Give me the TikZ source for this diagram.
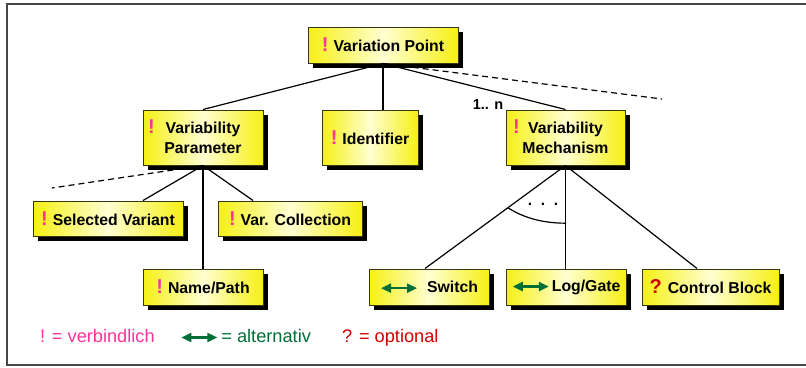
\documentclass[tikz,border=0pt]{standalone}
\usepackage{fontspec}
\setmainfont{Liberation Sans}
\usetikzlibrary{shadows,arrows.meta,calc}
\definecolor{expink}{RGB}{255,51,153}
\definecolor{altgreen}{RGB}{0,110,55}
\definecolor{optred}{RGB}{210,0,0}
\definecolor{boxyellow}{RGB}{246,240,20}
\definecolor{boxpale}{RGB}{255,255,210}
\definecolor{boxedge}{RGB}{55,55,20}
\newcommand{\vpboxfont}{\fontsize{15.8}{20}\selectfont\bfseries}
\newcommand{\exmark}{{\fontsize{20}{20}\selectfont\bfseries\color{expink}!}}
\newcommand{\optmark}{{\fontsize{20}{20}\selectfont\bfseries\color{optred}?}}
\newcommand{\altmark}{\tikz[baseline=-4.5pt]\draw[altgreen,line width=2.2pt,{Triangle[length=10pt,width=9pt]}-{Triangle[length=10pt,width=9pt]}] (0pt,0pt) -- (36pt,0pt);}
\begin{document}
\begin{tikzpicture}[x=1pt,y=-1pt,
  vbox/.style={draw=boxedge, line width=1pt, left color=boxyellow, right color=boxyellow,
    middle color=boxpale, general shadow={fill=black, shadow xshift=5pt, shadow yshift=-5pt},
    inner sep=0pt, font=\vpboxfont},
  exnode/.style={inner sep=0pt, font=\fontsize{20}{20}\selectfont\bfseries, text=expink},
  conn/.style={draw=black, line width=1.2pt},
  dashconn/.style={conn, dash pattern=on 6pt off 4pt},
  legend/.style={inner sep=0pt, anchor=base west, font=\fontsize{18.2}{20}\selectfont},
  frameline/.style={draw=black!72, line width=1.8pt}]
\useasboundingbox (0,0) rectangle (806,367);
\draw[frameline] (806,4) -- (7,4) -- (7,365) -- (806,365);

% boxes
\node[vbox, minimum width=150pt, minimum height=36pt] (vp) at (383,45) {\exmark\hspace{5pt}Variation Point};
\node[vbox, minimum width=120pt, minimum height=55pt, align=center] (vpar) at (203,137.5) {Variability\\Parameter};
\node[exnode] (vparex) at ([xshift=9pt,yshift=-17pt]vpar.north west) {!};
\node[vbox, minimum width=96pt, minimum height=55pt] (id) at (370,137.5) {\exmark\hspace{5pt}Identifier};
\node[vbox, minimum width=119pt, minimum height=55pt, align=center] (vmech) at (565.5,137.5) {Variability\\Mechanism};
\node[exnode] (vmechex) at ([xshift=11pt,yshift=-17pt]vmech.north west) {!};
\node[vbox, minimum width=150pt, minimum height=35pt] (sel) at (108,218.5) {\exmark\hspace{5pt}Selected Variant};
\node[vbox, minimum width=144pt, minimum height=35pt] (coll) at (290,218.5) {\exmark\hspace{5pt}Var. Collection};
\node[vbox, minimum width=120pt, minimum height=36pt] (name) at (203,287) {\exmark\hspace{5pt}Name/Path\hspace{10pt}};
\node[vbox, minimum width=120pt, minimum height=36pt] (sw) at (429,287) {\altmark\hspace{9pt}Switch\hspace{8pt}};
\node[vbox, minimum width=120pt, minimum height=36pt] (lg) at (566,287) {\altmark\hspace{2pt}Log/Gate};
\node[vbox, minimum width=137pt, minimum height=36pt] (cb) at (710.5,287) {\optmark\hspace{6pt}Control Block};

% connectors top level
\coordinate (vpdash) at (662,99);
\draw[conn] (vp.south) -- (vpar.north);
\draw[conn] (vp.south) -- (vp.south |- id.north);
\draw[conn] (vp.south) -- (vmech.north);
\draw[dashconn] (vp.south) -- (vpdash);
\node[inner sep=0pt, anchor=base, font=\fontsize{14.5}{16}\selectfont\bfseries] (mult) at (488,109) {1.. n};

% parameter level
\coordinate (pardash) at (52,188);
\draw[conn] (vpar.south) -- ([xshift=35pt]sel.north);
\draw[conn] (vpar.south) -- ([xshift=-37pt]coll.north);
\draw[conn] (vpar.south) -- (name.north);
\draw[dashconn] (vpar.south) -- (pardash);

% mechanism level
\coordinate (swtop) at ([xshift=-4pt]sw.north);
\coordinate (lgtop) at (vmech.south |- lg.north);
\coordinate (cbtop) at ([xshift=-13.5pt]cb.north);
\draw[conn] (vmech.south) -- (swtop);
\draw[conn] (vmech.south) -- (lgtop);
\draw[conn] (vmech.south) -- (cbtop);
\coordinate (arcA) at ($(vmech.south)!0.41!(swtop)$);
\coordinate (arcB) at ($(vmech.south)!0.56!(lgtop)$);
\draw[conn] (arcA) .. controls +(14,9) and +(-25,0) .. (arcB);
\node[inner sep=0pt, anchor=base, font=\fontsize{15.5}{16}\selectfont\bfseries] (dots) at (543,205.5) {.\hspace{8.7pt}.\hspace{8.7pt}.};

% legend
\node[legend, text=expink] (leg1) at (40,342) {! = verbindlich};
\node[legend, text=altgreen] (leg2) at (180,342) {\altmark\hspace{3pt}= alternativ};
\node[legend, text=optred] (leg3) at (342,342) {? = optional};
\end{tikzpicture}
\end{document}
